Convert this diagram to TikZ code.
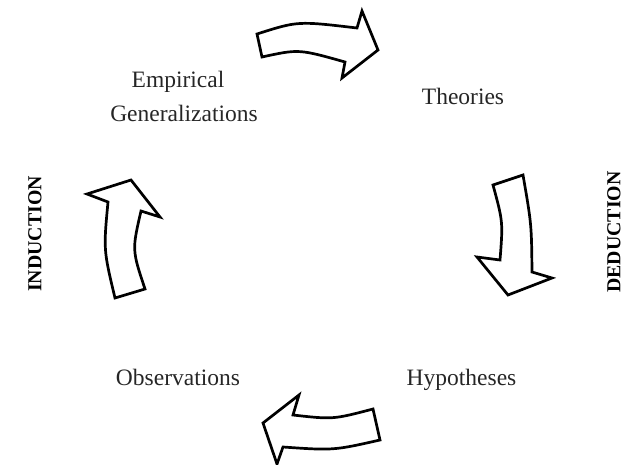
\documentclass[tikz,border=0pt]{standalone}
\usepackage{fontspec}
\setmainfont{Liberation Serif}
\begin{document}
\begin{tikzpicture}[x=1pt,y=-1pt,
  bigarrow/.style={draw=black,line width=2.7pt,line join=miter,fill=white},
  lbl/.style={inner sep=0pt,font=\fontsize{23.5}{28}\selectfont,text=black!85},
  side/.style={inner sep=0pt,font=\fontsize{19.8}{24}\selectfont\bfseries,rotate=90}]
\useasboundingbox (0,0) rectangle (626,465);
% labels
\node[lbl,anchor=base] (emp) at (178,88) {Empirical};
\node[lbl,anchor=base] (gen) at (184,122) {Generalizations};
\node[lbl,anchor=base] (the) at (463,105) {Theories};
\node[lbl,anchor=base] (hyp) at (461.5,385) {Hypotheses};
\node[lbl,anchor=base] (obs) at (178,385) {Observations};
\node[side] (ind) at (35,234) {INDUCTION};
\node[side] (ded) at (614,232) {DEDUCTION};
% top arrow
\draw[bigarrow] (257,34) .. controls (297.7,21) .. (357,28) -- (362,11) -- (378,50)
  -- (342,78) -- (345,62) .. controls (298.8,49) .. (262,57) -- cycle;
% right arrow
\draw[bigarrow] (493,185) -- (523,175) .. controls (531.5,224.2) .. (532,272)
  -- (552,278) -- (508,295) -- (477,257) -- (500,260) .. controls (503,221.8) .. cycle;
% bottom arrow
\draw[bigarrow] (373,409) -- (380,440) .. controls (333.5,450.5) .. (283,447)
  -- (277,464) -- (263,423) -- (299,395) -- (293,415) .. controls (333,419.5) .. cycle;
% left arrow
\draw[bigarrow] (115,298) -- (145,289) .. controls (132,250) .. (141,211)
  -- (160,217) -- (131,180) -- (87,194) -- (108,202) .. controls (103.5,250) .. cycle;
\end{tikzpicture}
\end{document}
